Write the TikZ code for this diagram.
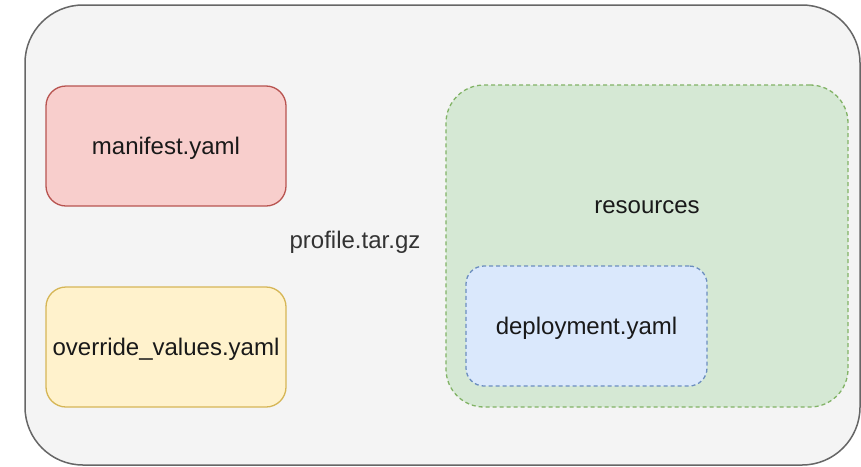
\documentclass[tikz,border=0pt]{standalone}
\usepackage{fontspec}
\setmainfont{Liberation Sans}
\definecolor{outerfill}{HTML}{F4F4F4}
\definecolor{outerline}{HTML}{666666}
\definecolor{redfill}{HTML}{F8CECC}
\definecolor{redline}{HTML}{B85450}
\definecolor{yelfill}{HTML}{FFF2CC}
\definecolor{yelline}{HTML}{D6B656}
\definecolor{grnfill}{HTML}{D5E8D4}
\definecolor{grnline}{HTML}{82B366}
\definecolor{blufill}{HTML}{DAE8FC}
\definecolor{bluline}{HTML}{6C8EBF}
\definecolor{txtgrey}{HTML}{333333}
\tikzset{
  txt/.style={font=\fontsize{24}{28}\selectfont, text=black!90, text height=21.5pt, text depth=5pt},
  lbl/.style={txt, inner sep=0pt},
  filebox/.style={txt, rectangle, rounded corners=20pt, line width=1.3pt, minimum width=240pt, minimum height=120pt, inner sep=0pt},
  dashbox/.style={rectangle, line width=1.3pt, dash pattern=on 4pt off 3pt, inner sep=0pt}
}
\begin{document}
\begin{tikzpicture}[x=1pt,y=-1pt]
\useasboundingbox (0,0) rectangle (861,466);
\node[rectangle, rounded corners=58pt, draw=outerline, fill=outerfill, line width=1.5pt, minimum width=835pt, minimum height=460pt, inner sep=0pt] (profile) at (442.5,235) {};
\node[lbl, text=txtgrey] (profilelbl) at (355,240) {profile.tar.gz};
\node[filebox, draw=redline, fill=redfill] (manifest) at (166,146) {manifest.yaml};
\node[filebox, draw=yelline, fill=yelfill] (override) at (166,347) {override\_values.yaml};
\node[dashbox, rounded corners=38pt, draw=grnline, fill=grnfill, minimum width=402pt, minimum height=322pt] (resources) at (647,246) {};
\node[lbl] (reslbl) at (647,205) {resources};
\node[dashbox, txt, rounded corners=18pt, draw=bluline, fill=blufill, minimum width=241pt, minimum height=120pt] (deploy) at (586.5,326) {deployment.yaml};
\end{tikzpicture}
\end{document}
